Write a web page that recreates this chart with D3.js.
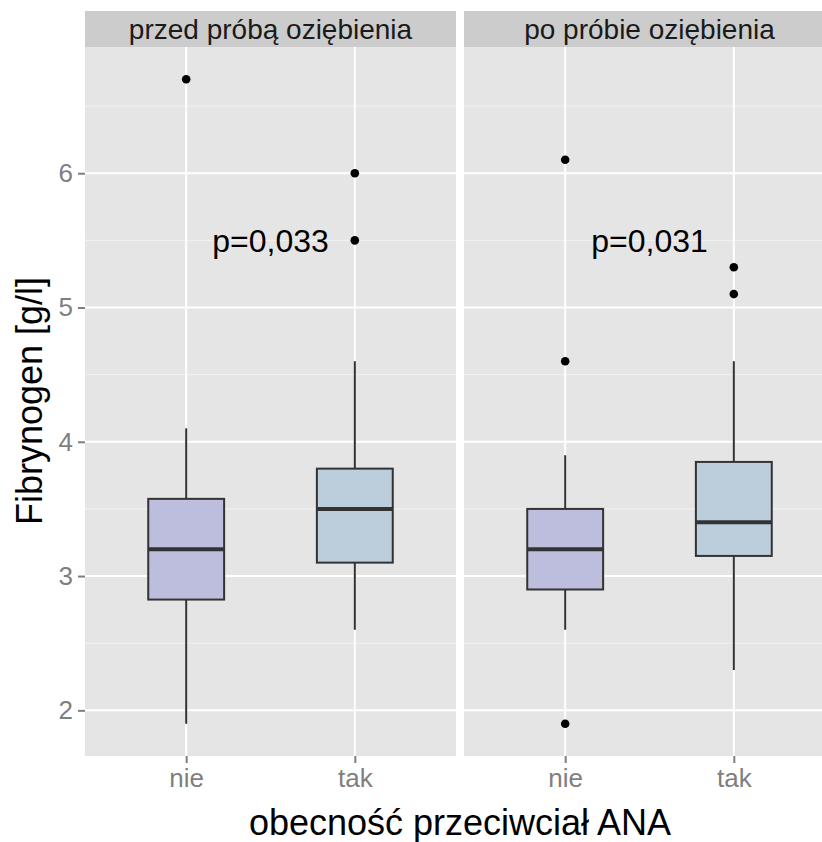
<!DOCTYPE html>
<html>
<head>
<meta charset="utf-8">
<script src="https://cdn.jsdelivr.net/npm/d3@7"></script>
<style>
  html, body { margin: 0; padding: 0; background: #fff; }
  svg { display: block; font-family: "Liberation Sans", Arial, sans-serif; }
</style>
</head>
<body>
<svg id="chart" width="822" height="842"></svg>
<script>
// ---- data ----
const panels = ["przed próbą oziębienia", "po próbie oziębienia"];
const groups = ["nie", "tak"];
const whiskerLow  = [[1.9, 2.6], [2.6, 2.3]];
const q1          = [[2.825, 3.1], [2.9, 3.15]];
const median      = [[3.2, 3.5], [3.2, 3.4]];
const q3          = [[3.575, 3.8], [3.5, 3.85]];
const whiskerHigh = [[4.1, 4.6], [3.9, 4.6]];
const outliers    = [[[6.7], [6.0, 5.5]], [[6.1, 4.6, 1.9], [5.3, 5.1]]];
const pLabels     = ["p=0,033", "p=0,031"];
const yTicks      = [2, 3, 4, 5, 6];
const yMinor      = [2.5, 3.5, 4.5, 5.5, 6.5];
const xTitle = "obecność przeciwciał ANA";
const yTitle = "Fibrynogen [g/l]";

// ---- layout ----
const svg = d3.select("#chart");
const panelLeft = [85, 464];
const panelW = 371;
const panelTop = 47, panelBottom = 756;
const stripTop = 11;
const fills = {nie: "#bdbddd", tak: "#bccedc"};

const y = d3.scaleLinear().domain([1.66, 6.94]).range([panelBottom, panelTop]);

panels.forEach((pname, pi) => {
  const x0 = panelLeft[pi];
  const x = d3.scalePoint().domain(groups).range([x0, x0 + panelW]).padding(0.6);
  const step = x.step();
  const g = svg.append("g");

  // strip
  g.append("rect").attr("x", x0).attr("y", stripTop).attr("width", panelW)
    .attr("height", panelTop - stripTop).attr("fill", "#cccccc");
  g.append("text").attr("x", x0 + panelW / 2).attr("y", 38.5)
    .attr("text-anchor", "middle").attr("font-size", 28).attr("fill", "#1a1a1a").text(pname);

  // panel bg
  g.append("rect").attr("x", x0).attr("y", panelTop).attr("width", panelW)
    .attr("height", panelBottom - panelTop).attr("fill", "#e5e5e5");

  // minor grid
  g.selectAll(".minor").data(yMinor).join("line")
    .attr("x1", x0).attr("x2", x0 + panelW)
    .attr("y1", d => y(d)).attr("y2", d => y(d))
    .attr("stroke", "#f2f2f2").attr("stroke-width", 1);
  // major grid
  g.selectAll(".major").data(yTicks).join("line")
    .attr("x1", x0).attr("x2", x0 + panelW)
    .attr("y1", d => y(d)).attr("y2", d => y(d))
    .attr("stroke", "#ffffff").attr("stroke-width", 2);
  g.selectAll(".vmajor").data(groups).join("line")
    .attr("x1", d => x(d)).attr("x2", d => x(d))
    .attr("y1", panelTop).attr("y2", panelBottom)
    .attr("stroke", "#ffffff").attr("stroke-width", 2);

  // boxes
  const boxW = 0.45 * step;
  groups.forEach((grp, gi) => {
    const cx = x(grp);
    g.append("line").attr("x1", cx).attr("x2", cx)
      .attr("y1", y(whiskerHigh[pi][gi])).attr("y2", y(q3[pi][gi]))
      .attr("stroke", "#333333").attr("stroke-width", 2);
    g.append("line").attr("x1", cx).attr("x2", cx)
      .attr("y1", y(q1[pi][gi])).attr("y2", y(whiskerLow[pi][gi]))
      .attr("stroke", "#333333").attr("stroke-width", 2);
    g.append("rect").attr("x", cx - boxW / 2).attr("width", boxW)
      .attr("y", y(q3[pi][gi])).attr("height", y(q1[pi][gi]) - y(q3[pi][gi]))
      .attr("fill", fills[grp]).attr("stroke", "#333333").attr("stroke-width", 2);
    g.append("line").attr("x1", cx - boxW / 2).attr("x2", cx + boxW / 2)
      .attr("y1", y(median[pi][gi])).attr("y2", y(median[pi][gi]))
      .attr("stroke", "#333333").attr("stroke-width", 4);
    g.selectAll(null).data(outliers[pi][gi]).join("circle")
      .attr("cx", cx).attr("cy", d => y(d)).attr("r", 4.3).attr("fill", "#000");
  });

  // p label
  g.append("text").attr("x", (x(groups[0]) + x(groups[1])) / 2).attr("y", y(5.5))
    .attr("dy", "0.36em").attr("text-anchor", "middle").attr("font-size", 32)
    .attr("fill", "#000").text(pLabels[pi]);

  // x axis ticks
  const xa = g.append("g").attr("transform", `translate(0,${panelBottom})`)
    .call(d3.axisBottom(x).tickSize(7).tickPadding(6));
  xa.select(".domain").remove();
  xa.selectAll(".tick line").attr("stroke", "#7f7f7f").attr("stroke-width", 2);
  xa.selectAll(".tick text").attr("font-size", 26).attr("fill", "#7f7f7f")
    .attr("font-family", "Liberation Sans, Arial, sans-serif");
});

// y axis
const ya = svg.append("g").attr("transform", `translate(${panelLeft[0]},0)`)
  .call(d3.axisLeft(y).tickValues(yTicks).tickFormat(d3.format("d")).tickSize(7).tickPadding(5));
ya.select(".domain").remove();
ya.selectAll(".tick line").attr("stroke", "#7f7f7f").attr("stroke-width", 2);
ya.selectAll(".tick text").attr("font-size", 26).attr("fill", "#7f7f7f")
  .attr("font-family", "Liberation Sans, Arial, sans-serif");

// titles
svg.append("text").attr("x", 460).attr("y", 835).attr("text-anchor", "middle")
  .attr("font-size", 36).attr("fill", "#000").text(xTitle);
svg.append("text").attr("transform", "translate(42,401) rotate(-90)")
  .attr("text-anchor", "middle").attr("font-size", 36).attr("fill", "#000").text(yTitle);
</script>
</body>
</html>
